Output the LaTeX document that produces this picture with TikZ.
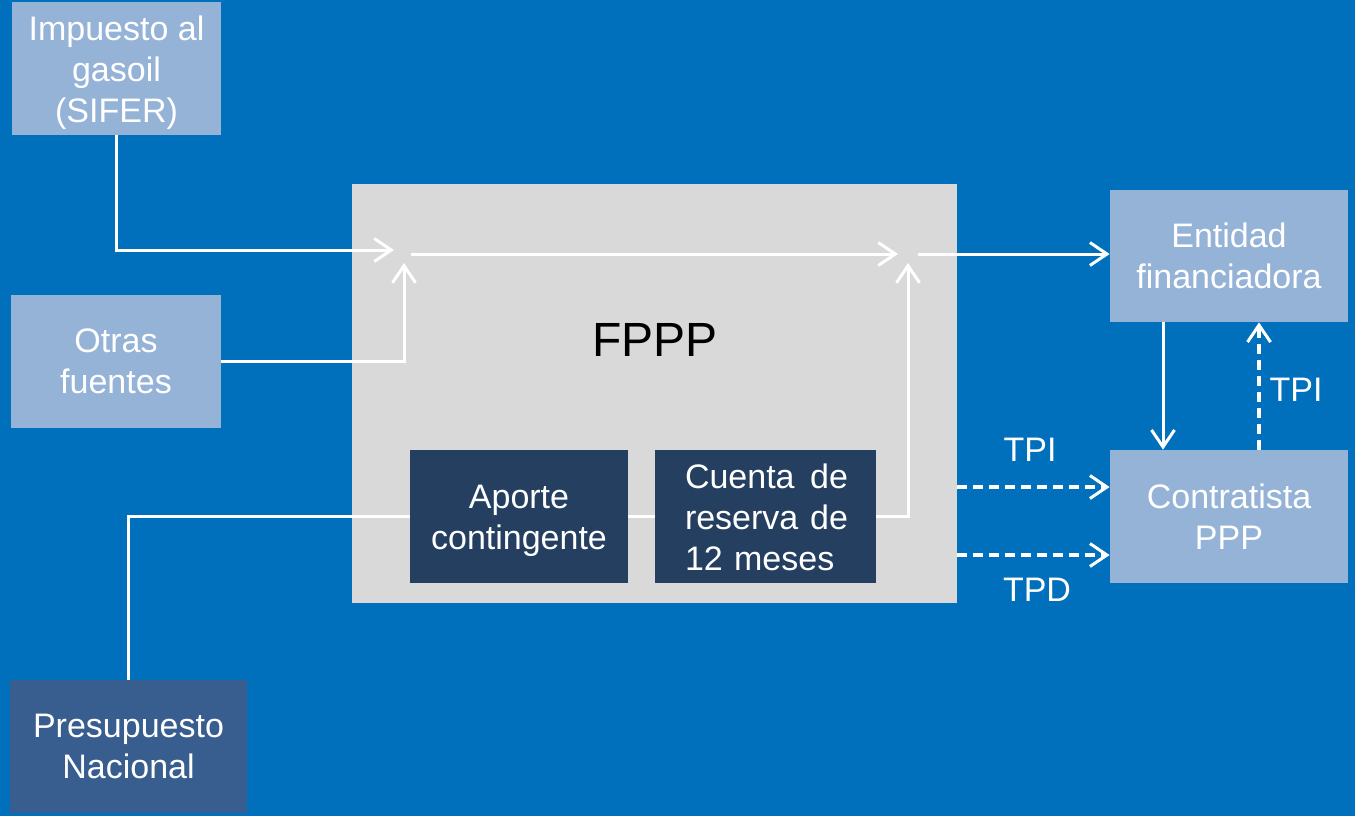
\documentclass[tikz,border=0pt]{standalone}
\usepackage{fontspec}
\setmainfont{Liberation Sans}
\usetikzlibrary{arrows.meta,calc}
\definecolor{bgblue}{HTML}{0070BC}
\definecolor{lightbox}{HTML}{95B3D7}
\definecolor{darkbox}{HTML}{243F60}
\definecolor{midbox}{HTML}{385E8F}
\definecolor{grayfp}{HTML}{D9D9D9}
\newcommand\tstr{\rule{0pt}{16.5pt}}
\tikzset{
  box/.style={rectangle,inner sep=0pt,align=center,text=white,
    font=\fontsize{17}{20.5}\selectfont},
  lbox/.style={box,fill=lightbox},
  dbox/.style={box,fill=darkbox},
  wline/.style={draw=white,line width=1.5pt},
  arr/.style={-{Straight Barb[length=8.5pt,width=11.5pt,line width=1.5pt]}},
  dline/.style={draw=white,line width=2pt,dash pattern=on 5pt off 3pt},
  lbl/.style={text=white,font=\fontsize{17}{20.5}\selectfont,inner sep=0pt}
}
\begin{document}
\begin{tikzpicture}[x=0.5pt,y=-0.5pt]
\fill[bgblue] (0,0) rectangle (1355,816);
\useasboundingbox (0,0) rectangle (1355,816);
% boxes
\node[lbox,minimum width=104.5pt,minimum height=66.5pt] (imp) at (116.5,68.5) {\tstr Impuesto al\\gasoil\\(SIFER)};
\node[lbox,minimum width=105pt,minimum height=66.5pt] (otr) at (116,361.5) {Otras\\fuentes};
\node[box,fill=midbox,minimum width=118.5pt,minimum height=66.5pt] (pre) at (128.5,746.5) {Presupuesto\\Nacional};
\node[rectangle,fill=grayfp,inner sep=0pt,minimum width=302.5pt,minimum height=209.5pt] (fp) at (654.5,393.5) {};
\node[inner sep=0pt,font=\fontsize{24}{28}\selectfont,text=black] (fpl) at (655,340) {FPPP};
\node[dbox,minimum width=109pt,minimum height=66.5pt] (apo) at (519,516.5) {\tstr Aporte\\contingente};
\node[rectangle,fill=darkbox,inner sep=0pt,minimum width=110.5pt,minimum height=66.5pt] (cta) at (765.5,516.5) {};
\node[box,text width=81.5pt,align=left] (ctat) at (766.5,517) {Cuenta\hfill de\\reserva\hfill de\\12 meses};
\node[lbox,minimum width=119pt,minimum height=66pt] (ent) at (1229,256) {Entidad\\financiadora};
\node[lbox,minimum width=119pt,minimum height=66.5pt] (con) at (1229,516.5) {Contratista\\PPP};
% junction coordinates
\coordinate (ja) at (394,250);
\coordinate (jb) at (404,263);
\coordinate (m1) at (411,254);
\coordinate (m2) at (898,254);
\coordinate (jc) at (908,263);
\coordinate (m3) at (918,254);
% connectors
\draw[wline,arr] (imp.south) |- (ja);
\draw[wline,arr] (otr.east) -| (jb);
\draw[wline,arr] (m1) -- (m2);
\draw[wline,arr] (cta.east) -| (jc);
\draw[wline,arr] (m3) -- (ent.west |- m3);
\draw[wline] (pre.north) |- (apo.west);
\draw[wline] (apo.east) -- (cta.west);
\draw[wline,arr] ($(ent.south)+(-66,0)$) -- ($(con.north)+(-66,0)$);
\draw[dline,arr] ($(con.north)+(30,0)$) -- ($(ent.south)+(30,0)$);
\draw[dline,arr] ($(fp.east)+(0,93.5)$) -- ($(con.west)+(0,-29.5)$);
\draw[dline,arr] ($(fp.east)+(0,161.5)$) -- ($(con.west)+(0,38.5)$);
% labels
\node[lbl] (t1) at (1030,450) {TPI};
\node[lbl] (t2) at (1037,590) {TPD};
\node[lbl] (t3) at (1296,390) {TPI};
\end{tikzpicture}
\end{document}
